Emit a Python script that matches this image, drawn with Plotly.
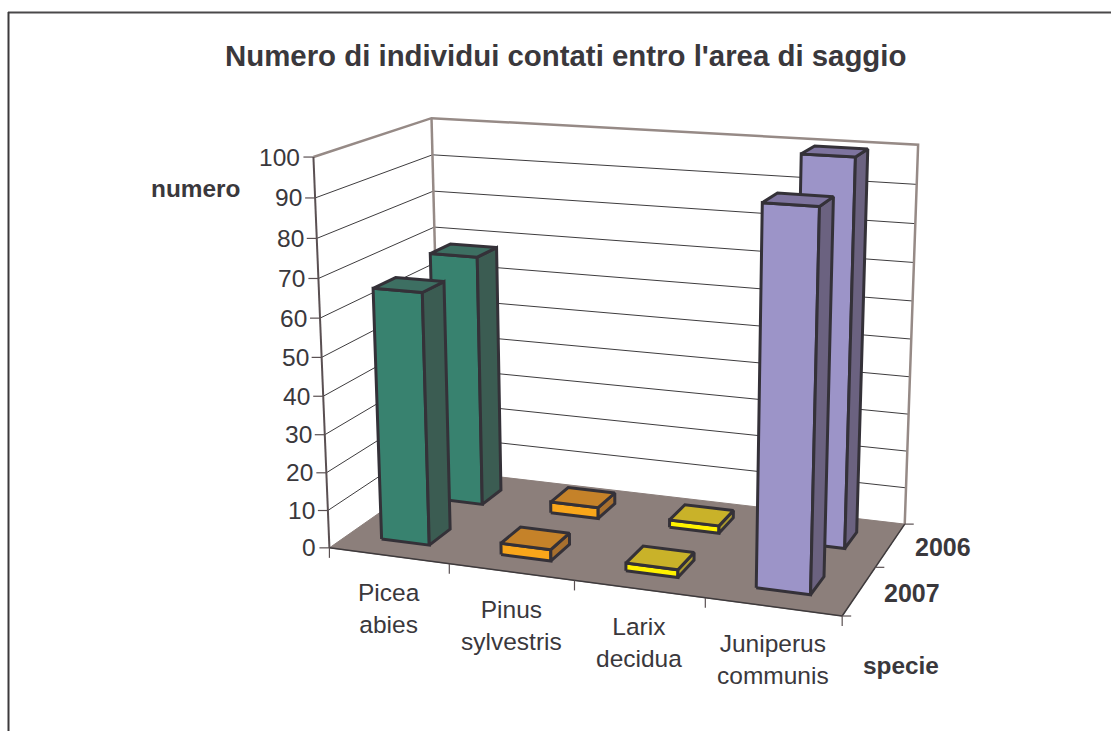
import numpy as np
import plotly.graph_objects as go

# ---------- data ----------
species = ["Picea<br>abies", "Pinus<br>sylvestris", "Larix<br>decidua", "Juniperus<br>communis"]
years = ["2007", "2006"]
values_2007 = [66, 3, 2, 94]
values_2006 = [68, 3, 2, 100]
z_ticks = [0, 10, 20, 30, 40, 50, 60, 70, 80, 90, 100]
title_text = "Numero di individui contati entro l'area di saggio"
z_title = "numero"
x_title = "specie"

# ---------- styles ----------
FONT = "Liberation Sans"
TXT = "#3a383c"
EDGE = "#343138"
WALL = "#968a86"
GRID = "#3e3c3e"
FLOOR = "#8c7f7b"
face_colors = [
    ("#38826f", "#3d6f62", "#3b5c52"),
    ("#f9a61a", "#c58229", "#a8702e"),
    ("#fff200", "#c9b229", "#ab9a2f"),
    ("#9c94c8", "#7e749f", "#6b6280"),
]

W, H = 1111, 731
# Excel-style 3D view: the box (0..1)^3 is placed on the page by a projective camera
anchors = [((0, 0, 0), (330, 547)), ((0, 0, 1), (313, 157)), ((0, 1, 1), (432, 118)),
           ((0, 1, 0), (440, 471)), ((1, 1, 1), (918, 145)), ((1, 1, 0), (905, 523)),
           ((1, 0, 0), (842, 617))]
A = []
b = []
for (X, Y, Z), (u, v) in anchors:
    A.append([X, Y, Z, 1, 0, 0, 0, 0, -u * X, -u * Y, -u * Z]); b.append(u)
    A.append([0, 0, 0, 0, X, Y, Z, 1, -v * X, -v * Y, -v * Z]); b.append(v)
cam = np.append(np.linalg.lstsq(np.array(A, float), np.array(b, float), rcond=None)[0], 1).reshape(3, 4)


def pr(x, y, z):
    q = cam @ np.array([x, y, z / 100, 1.0])
    return q[0] / q[2], q[1] / q[2]


fig = go.Figure()


def poly(points, fill=None, color=None, width=1):
    xs, ys = zip(*[pr(*p) for p in points])
    fig.add_trace(go.Scatter(
        x=list(xs), y=list(ys), mode="lines", hoverinfo="skip", showlegend=False,
        fill="toself" if fill else None, fillcolor=fill,
        line=dict(color=color or fill, width=width, simplify=False)))


def seg(p0, p1, color, width):
    fig.add_trace(go.Scatter(x=[p0[0], p1[0]], y=[p0[1], p1[1]], mode="lines", hoverinfo="skip",
                             showlegend=False, line=dict(color=color, width=width)))


# page frame
seg((8, 12.5), (W, 12.5), "#4a484a", 2)
seg((8.5, 12), (8.5, H), "#3c3a3c", 2)

# gridlines on the walls
for t in z_ticks[1:-1]:
    seg(pr(0, 0, t), pr(0, 1, t), GRID, 1)
    seg(pr(0, 1, t), pr(1, 1, t), GRID, 1)

# walls
poly([(0, 0, 100), (0, 1, 100), (1, 1, 100), (1, 1, 0)], color=WALL, width=2.5)
poly([(0, 1, 100), (0, 1, 0)], color=WALL, width=2.5)

# floor
poly([(0, 0, 0), (1, 0, 0), (1, 1, 0), (0, 1, 0), (0, 0, 0)], fill=FLOOR, color=FLOOR, width=1)

# axis lines and ticks
seg(pr(0, 0, 0), pr(0, 0, 100), "#5a5052", 2)
seg(pr(0, 0, 0), pr(1, 0, 0), "#3e3a3c", 1.5)
seg(pr(1, 0, 0), pr(1, 1, 0), "#3e3a3c", 1.5)
for t in z_ticks:
    u, v = pr(0, 0, t)
    seg((u - 10, v), (u, v), "#5a5052", 1.2)
for i in range(5):
    u, v = pr(i / 4, 0, 0)
    seg((u, v), (u, v + 10), "#5a5052", 1.2)
for j in range(3):
    u, v = pr(1, j / 2, 0)
    seg((u, v), (u + 9, v), "#5a5052", 1.2)

# bars (back row first)
BW = 0.101
BD = 0.19
XSHIFT = -0.003
series = [values_2007, values_2006]
for j in (1, 0):
    yc = (j + 0.5) / 2
    for i, val in enumerate(series[j]):
        xc = (i + 0.5) / 4 + XSHIFT
        x0, x1 = xc - BW * 0.5, xc + BW * 0.5
        y0, y1 = yc - BD * 0.5, yc + BD * 0.5
        front, top, side = face_colors[i]
        poly([(x0, y0, 0), (x1, y0, 0), (x1, y0, val), (x0, y0, val), (x0, y0, 0)], fill=front, color=EDGE, width=3)
        poly([(x1, y0, 0), (x1, y1, 0), (x1, y1, val), (x1, y0, val), (x1, y0, 0)], fill=side, color=EDGE, width=3)
        poly([(x0, y0, val), (x1, y0, val), (x1, y1, val), (x0, y1, val), (x0, y0, val)], fill=top, color=EDGE, width=3)

# text
ann = []


def label(u, v, text, bold=False, size=24.5, xanchor="center"):
    ann.append(dict(x=u, y=v, xref="x", yref="y", text=f"<b>{text}</b>" if bold else text, showarrow=False,
                    xanchor=xanchor, yanchor="middle", align="center",
                    font=dict(family=FONT, size=size, color=TXT)))


label(565, 55, title_text, True, 29.4)
label(195, 188, z_title, True, 24.4)
label(901, 665, x_title, True, 24.4)
for t in z_ticks:
    u, v = pr(0, 0, t)
    label(u - 11, v, str(t), xanchor="right")
for i, s in enumerate(species):
    u, v = pr((i + 0.5) / 4, 0, 0)
    label(u, v + 53, s)
for j, y in enumerate(years):
    u, v = pr(1, (j + 0.5) / 2, 0)
    label(u + 53, v + 2, y, True, 25)

fig.update_layout(
    width=W, height=H, margin=dict(l=0, r=0, t=0, b=0), paper_bgcolor="white", plot_bgcolor="white",
    showlegend=False, annotations=ann,
    xaxis=dict(range=[0, W], visible=False, fixedrange=True),
    yaxis=dict(range=[H, 0], visible=False, fixedrange=True),
)
fig.write_html("out.html", post_script="document.body.style.margin='0';document.documentElement.style.overflow='hidden';",
               config={"displayModeBar": False})
